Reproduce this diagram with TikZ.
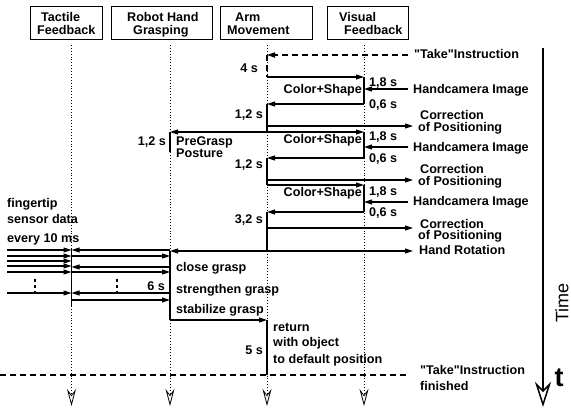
\documentclass[tikz,border=0pt]{standalone}
\usepackage{fontspec}
\setmainfont{Liberation Sans}[Ligatures=TeXOff]
\usetikzlibrary{arrows.meta}
\begin{document}
\begin{tikzpicture}[x=1pt,y=-1pt,
  lbl/.style={font=\bfseries\fontsize{12.6}{12}\selectfont, inner sep=0pt},
  lw/.style={lbl, anchor=base west},
  le/.style={lbl, anchor=base east},
  hdr/.style={draw, line width=0.8pt, minimum height=33pt, inner sep=0pt},
  life/.style={dotted, line width=0.9pt, -{Stealth[open,length=17pt,width=9pt,inset=6pt,line width=0.8pt]}},
  msg/.style={line width=1.1pt, -{Triangle[length=8pt,width=5pt]}},
  bar/.style={line width=1.7pt},
  dsh/.style={line width=1.7pt, dash pattern=on 6pt off 4pt},
  dots3/.style={line width=2.6pt, dash pattern=on 2.6pt off 3.6pt}
]
\useasboundingbox (0,0) rectangle (571,414);

% headers
\node[hdr, minimum width=72pt] (hT) at (66,22.5) {};
\node[hdr, minimum width=101pt] (hR) at (161.5,22.5) {};
\node[hdr, minimum width=92pt] (hA) at (266,22.5) {};
\node[hdr, minimum width=81pt] (hV) at (367.5,22.5) {};
\node[lw] (t1) at (41,22) {Tactile};
\node[lw] (t2) at (37,35) {Feedback};
\node[lw] (r1t) at (127,22) {Robot Hand};
\node[lw] (r2t) at (133,35) {Grasping};
\node[lw] (a1t) at (235,22) {Arm};
\node[lw] (a2t) at (227,35) {Movement};
\node[lw] (v1t) at (339,22) {Visual};
\node[lw] (v2t) at (344,35) {Feedback};

% lifelines
\coordinate (Ttop) at (71.5,45); \coordinate (Tbot) at (71.5,406);
\coordinate (Rtop) at (170,45);  \coordinate (Rbot) at (170,406);
\coordinate (Atop) at (267,45);  \coordinate (Abot) at (267,406);
\coordinate (Vtop) at (364,45);  \coordinate (Vbot) at (364,406);
\draw[life] (Ttop) -- (Tbot);
\draw[life] (Rtop) -- (Rbot);
\draw[life] (Atop) -- (Abot);
\draw[life] (Vtop) -- (Vbot);

% time axis
\coordinate (Xtop) at (543,48); \coordinate (Xbot) at (543,407);
\draw[line width=1.5pt, -{Stealth[open,length=25pt,width=16pt,inset=8pt,line width=1.5pt]}] (Xtop) -- (Xbot);
\node[font=\fontsize{18}{18}\selectfont, rotate=90, inner sep=0pt] (time) at (562,303) {Time};
\node[font=\bfseries\fontsize{27}{27}\selectfont, inner sep=0pt, anchor=base] (tt) at (559,387) {t};

% coordinates of events
\coordinate (tk) at (408,55);  \coordinate (a0) at (267,55);
\coordinate (a1) at (267,77);  \coordinate (v1) at (364,77);
\coordinate (v2) at (364,104); \coordinate (a2) at (267,104);
\coordinate (h1s) at (408,89); \coordinate (h1e) at (364,89);
\coordinate (c1s) at (267,126); \coordinate (c1e) at (413,126);
\coordinate (a3) at (267,132); \coordinate (r1) at (170,132); \coordinate (v3) at (364,132);
\coordinate (r2) at (170,152);
\coordinate (h2s) at (408,147); \coordinate (h2e) at (364,147);
\coordinate (v4) at (364,158); \coordinate (a4) at (267,158);
\coordinate (c2s) at (267,180); \coordinate (c2e) at (413,180);
\coordinate (a5) at (267,185); \coordinate (v5) at (364,185);
\coordinate (h3s) at (408,202); \coordinate (h3e) at (364,202);
\coordinate (v6) at (364,212); \coordinate (a6) at (267,212);
\coordinate (c3s) at (267,228); \coordinate (c3e) at (413,228);
\coordinate (a7) at (267,251); \coordinate (hr) at (413,251); \coordinate (r3) at (170,251);
\coordinate (r4) at (170,320); \coordinate (a8) at (267,320); \coordinate (a9) at (267,375);
\coordinate (d0) at (0,375); \coordinate (d1) at (408,375);

% cycle 1
\draw[dsh, -{Triangle[length=8pt,width=5pt]}] (tk) -- (a0);
\draw[dsh] (a0) -- (a1);
\draw[msg] (a1) -- (v1);
\draw[bar] (v1) -- (v2);
\draw[msg] (h1s) -- (h1e);
\draw[msg] (v2) -- (a2);
\draw[bar] (a2) -- (a3);
\draw[msg] (c1s) -- (c1e);
\draw[msg] (a3) -- (r1);
\draw[msg] (a3) -- (v3);
\draw[bar] (r1) -- (r2);
% cycle 2
\draw[bar] (v3) -- (v4);
\draw[msg] (h2s) -- (h2e);
\draw[msg] (v4) -- (a4);
\draw[bar] (a4) -- (a5);
\draw[msg] (c2s) -- (c2e);
\draw[msg] (a5) -- (v5);
% cycle 3
\draw[bar] (v5) -- (v6);
\draw[msg] (h3s) -- (h3e);
\draw[msg] (v6) -- (a6);
\draw[bar] (a6) -- (a7);
\draw[msg] (c3s) -- (c3e);
\draw[msg] (a7) -- (hr);
\draw[msg] (a7) -- (r3);
% grasp
\draw[bar] (r3) -- (r4);
\draw[msg] (r4) -- (a8);
\draw[bar] (a8) -- (a9);
\draw[dsh] (d0) -- (d1);

% tactile
\coordinate (tb0) at (71.5,249); \coordinate (tb1) at (71.5,307);
\draw[bar] (tb0) -- (tb1);
\foreach \y in {250,256,261,266,272,293} {
  \coordinate (in\y) at (7,\y); \coordinate (ti\y) at (71.5,\y);
  \draw[msg] (in\y) -- (ti\y);
}
\foreach \y in {250,267,293} {
  \coordinate (rs\y) at (170,\y); \coordinate (te\y) at (71.5,\y);
  \draw[msg] (rs\y) -- (te\y);
}
\foreach \y in {256,272,300} {
  \coordinate (ts\y) at (71.5,\y); \coordinate (re\y) at (170,\y);
  \draw[msg] (ts\y) -- (re\y);
}
\coordinate (dl0) at (35,279); \coordinate (dl1) at (35,294);
\coordinate (dm0) at (117,279); \coordinate (dm1) at (117,294);
\draw[dots3] (dl0) -- (dl1);
\draw[dots3] (dm0) -- (dm1);

% labels
\node[lw] (lTake) at (414,59) {"Take"Instruction};
\node[le] (l4s) at (258,73) {4 s};
\node[le] (lcs1) at (362,94) {Color+Shape};
\node[lw] (l18a) at (369,87) {1,8 s};
\node[lw] (l06a) at (369,109) {0,6 s};
\node[lw] (lhc1) at (413,94) {Handcamera Image};
\node[le] (l12a) at (263,119) {1,2 s};
\node[lw] (lco1) at (420,120) {Correction};
\node[lw] (lop1) at (418,131.5) {of Positioning};
\node[le] (l12r) at (166,146) {1,2 s};
\node[lw] (lpg) at (176,145.5) {PreGrasp};
\node[lw] (lpo) at (176,158) {Posture};
\node[le] (lcs2) at (362,144) {Color+Shape};
\node[lw] (l18b) at (369,141) {1,8 s};
\node[lw] (l06b) at (369,163) {0,6 s};
\node[lw] (lhc2) at (413,152) {Handcamera Image};
\node[le] (l12b) at (263,169) {1,2 s};
\node[lw] (lco2) at (420,174) {Correction};
\node[lw] (lop2) at (418,185.5) {of Positioning};
\node[le] (lcs3) at (362,197) {Color+Shape};
\node[lw] (l18c) at (369,196) {1,8 s};
\node[lw] (l06c) at (369,217) {0,6 s};
\node[lw] (lhc3) at (413,206) {Handcamera Image};
\node[le] (l32) at (263,224) {3,2 s};
\node[lw] (lco3) at (420,228.5) {Correction};
\node[lw] (lop3) at (418,240) {of Positioning};
\node[lw] (lhr) at (419,255) {Hand Rotation};
\node[lw] (lf1) at (7,208) {fingertip};
\node[lw] (lf2) at (7,224) {sensor data};
\node[lw] (lf3) at (7,243) {every 10 ms};
\node[lw] (lg1) at (176,272) {close grasp};
\node[le] (l6s) at (165,290.5) {6 s};
\node[lw] (lg2) at (176,294) {strengthen grasp};
\node[lw] (lg3) at (176,314) {stabilize grasp};
\node[lw] (lrt1) at (273,332) {return};
\node[lw] (lrt2) at (273,347) {with object};
\node[lw] (lrt3) at (273,363) {to default position};
\node[le] (l5s) at (263,355) {5 s};
\node[lw] (lTk2) at (420,375) {"Take"Instruction};
\node[lw] (lfin) at (420,391) {finished};
\end{tikzpicture}
\end{document}
